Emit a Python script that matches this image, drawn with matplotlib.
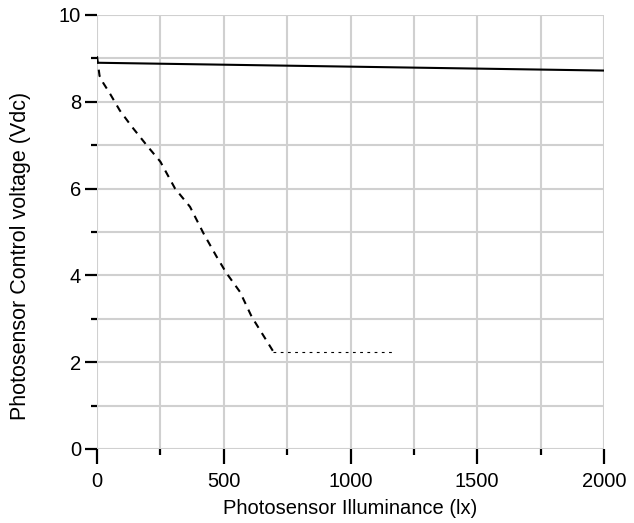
import matplotlib
matplotlib.use("Agg")
import matplotlib.pyplot as plt
from matplotlib.ticker import MultipleLocator

plt.rcParams['font.family'] = ['Liberation Sans', 'DejaVu Sans']

# Data
solid_x = [0, 2000]
solid_y = [8.90, 8.72]

dash_x = [0, 10, 25, 50, 90, 137, 200, 250, 308, 367, 420, 472, 511, 564, 610, 695]
dash_y = [9.05, 8.60, 8.43, 8.20, 7.80, 7.43, 6.97, 6.62, 6.00, 5.58, 4.97, 4.43, 4.05, 3.62, 3.05, 2.25]

dot_x = [695, 1170]
dot_y = [2.24, 2.24]

x_ticks = [0, 500, 1000, 1500, 2000]
y_ticks = [0, 2, 4, 6, 8, 10]

fig = plt.figure(figsize=(6.34, 5.23), dpi=100)
ax = fig.add_axes([97/634, 1-449/523, (604-97)/634, (449-15)/523])

ax.plot(solid_x, solid_y, color='black', lw=1.5, solid_capstyle='butt', zorder=3)
ax.plot(dash_x, dash_y, color='black', lw=1.5, linestyle=(0, (3.5, 3)), zorder=3)
ax.plot(dot_x, dot_y, color='black', lw=0.8, linestyle=(0, (2.5, 4)), zorder=3)

ax.set_xlim(0, 2000)
ax.set_ylim(0, 10)
ax.set_xticks(x_ticks)
ax.set_yticks(y_ticks)
ax.xaxis.set_minor_locator(MultipleLocator(250))
ax.yaxis.set_minor_locator(MultipleLocator(1))

ax.grid(True, which='both', color='#d0d0d0', lw=1.5, zorder=0)
ax.set_axisbelow(True)
for s in ax.spines.values():
    s.set_visible(False)

ax.tick_params(axis='x', which='major', length=10.5, width=1.6, direction='out', labelsize=14.5, pad=6, color='black')
ax.tick_params(axis='x', which='minor', length=4.5, width=1.6, direction='out', color='black')
ax.tick_params(axis='y', which='major', length=8.6, width=1.6, direction='out', labelsize=14.5, pad=3, color='black')
ax.tick_params(axis='y', which='minor', length=4.5, width=1.6, direction='out', color='black')

ax.set_xlabel('Photosensor Illuminance (lx)', fontsize=14.5, labelpad=6)
ax.set_ylabel('Photosensor Control voltage (Vdc)', fontsize=15.5)
ax.yaxis.set_label_coords(-0.131, 0.445)

fig.savefig('out.png', dpi=100)
